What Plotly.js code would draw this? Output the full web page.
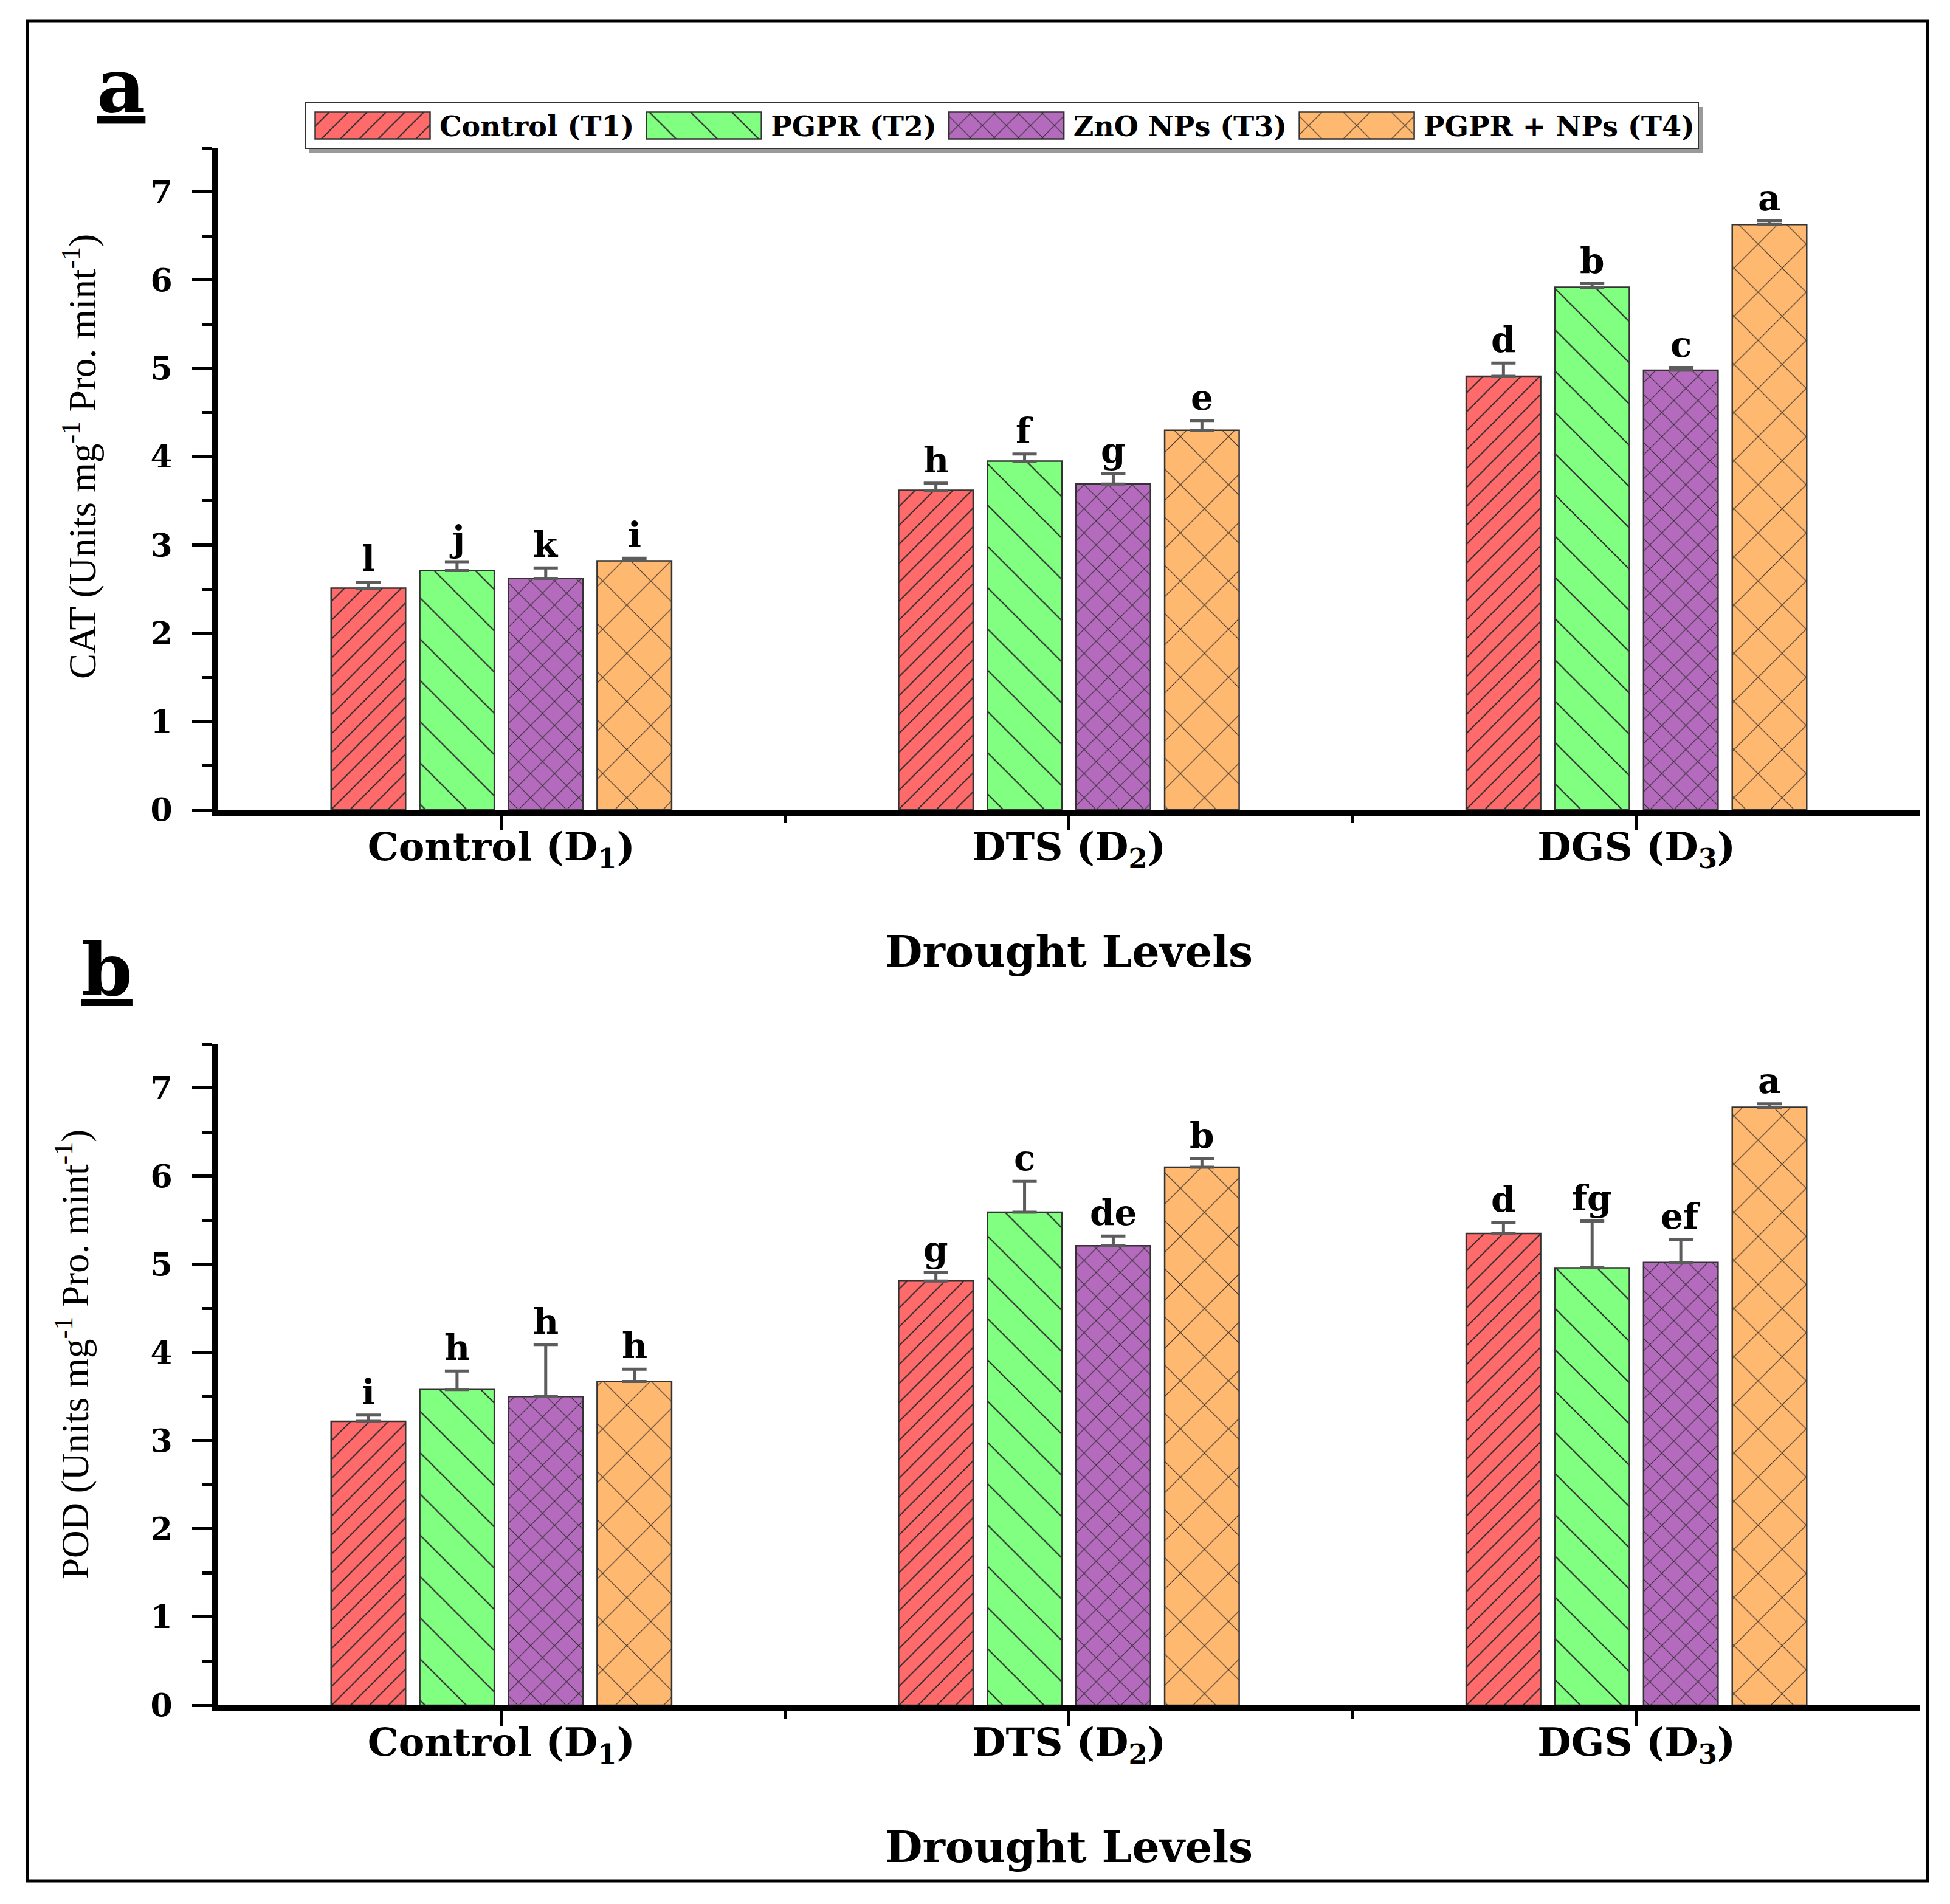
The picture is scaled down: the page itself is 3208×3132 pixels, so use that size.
<!DOCTYPE html>
<html>
<head>
<meta charset="utf-8">
<script src="https://cdn.plot.ly/plotly-3.0.1.min.js"></script>
<style>
html,body{margin:0;padding:0;background:#fff;}
#chart{width:3208px;height:3132px;}
</style>
</head>
<body>
<div id="chart"></div>
<script>
// ---------- data ----------
const categories = ['Control (D<sub>1</sub>)', 'DTS (D<sub>2</sub>)', 'DGS (D<sub>3</sub>)'];
const seriesNames = ['Control (T1)', 'PGPR (T2)', 'ZnO NPs (T3)', 'PGPR + NPs (T4)'];
const yTickVals = [0, 1, 2, 3, 4, 5, 6, 7];
const yTickLabels = ['0', '1', '2', '3', '4', '5', '6', '7'];
const yTitleA = 'CAT (Units mg<sup>-1</sup> Pro. mint<sup>-1</sup>)';
const yTitleB = 'POD (Units mg<sup>-1</sup> Pro. mint<sup>-1</sup>)';
const xTitle = 'Drought Levels';

// Panel a: CAT
const cat_T1 = [2.51, 3.62, 4.91];
const cat_T2 = [2.71, 3.95, 5.92];
const cat_T3 = [2.62, 3.69, 4.98];
const cat_T4 = [2.82, 4.30, 6.63];
const cat_T1_err = [0.07, 0.08, 0.15];
const cat_T2_err = [0.10, 0.08, 0.04];
const cat_T3_err = [0.12, 0.12, 0.03];
const cat_T4_err = [0.03, 0.11, 0.04];
const cat_T1_letters = ['l', 'h', 'd'];
const cat_T2_letters = ['j', 'f', 'b'];
const cat_T3_letters = ['k', 'g', 'c'];
const cat_T4_letters = ['i', 'e', 'a'];

// Panel b: POD
const pod_T1 = [3.22, 4.81, 5.35];
const pod_T2 = [3.58, 5.59, 4.96];
const pod_T3 = [3.50, 5.21, 5.02];
const pod_T4 = [3.67, 6.10, 6.78];
const pod_T1_err = [0.07, 0.10, 0.12];
const pod_T2_err = [0.21, 0.35, 0.53];
const pod_T3_err = [0.59, 0.11, 0.26];
const pod_T4_err = [0.14, 0.10, 0.04];
const pod_T1_letters = ['i', 'g', 'd'];
const pod_T2_letters = ['h', 'c', 'fg'];
const pod_T3_letters = ['h', 'de', 'ef'];
const pod_T4_letters = ['h', 'b', 'a'];

// ---------- styles ----------
const colors = ['#FF6B6B', '#80FF80', '#B56BBD', '#FFB870'];
const patterns = [
  {shape: '/', size: 22, solidity: 0.09},
  {shape: '\\', size: 48, solidity: 0.045},
  {shape: 'x', size: 28, solidity: 0.08},
  {shape: 'x', size: 56, solidity: 0.04}
];
const BARGAP = 0.375, BARGROUPGAP = 0.16;
const serif = 'DejaVu Serif';
const boldFont = (s) => ({family: serif, size: s, color: '#000', weight: 700});

const xIdx = categories.map((c, i) => i);
const panels = [
  {vals: [cat_T1, cat_T2, cat_T3, cat_T4], errs: [cat_T1_err, cat_T2_err, cat_T3_err, cat_T4_err],
   letters: [cat_T1_letters, cat_T2_letters, cat_T3_letters, cat_T4_letters], xa: 'x', ya: 'y'},
  {vals: [pod_T1, pod_T2, pod_T3, pod_T4], errs: [pod_T1_err, pod_T2_err, pod_T3_err, pod_T4_err],
   letters: [pod_T1_letters, pod_T2_letters, pod_T3_letters, pod_T4_letters], xa: 'x2', ya: 'y2'}
];

const traces = [];
const annotations = [];
const slot = (1 - BARGAP) / seriesNames.length;
panels.forEach((p, pi) => {
  seriesNames.forEach((name, j) => {
    traces.push({
      type: 'bar', name: name, x: xIdx, y: p.vals[j],
      xaxis: p.xa, yaxis: p.ya,
      legendgroup: name, showlegend: pi === 0,
      marker: {color: colors[j], line: {color: '#333', width: 2.5},
               pattern: Object.assign({fgcolor: '#2b2b2b', bgcolor: colors[j]}, patterns[j])},
      error_y: {type: 'data', symmetric: false, array: p.errs[j], arrayminus: p.errs[j].map(() => 0),
                color: '#5c5c5c', thickness: 5, width: 20},
      hoverinfo: 'skip'
    });
    p.letters[j].forEach((lt, i) => {
      annotations.push({
        xref: p.xa, yref: p.ya, x: xIdx[i] + (j - 1.5) * slot, y: p.vals[j][i] + p.errs[j][i],
        text: '<b>' + lt + '</b>', showarrow: false, xanchor: 'center', yanchor: 'bottom',
        yshift: 2, font: boldFont(58)
      });
    });
  });
});

// panel labels
annotations.push({xref: 'paper', yref: 'paper', x: 199 / 3208, y: 1 - 140 / 3132, text: '<b><u>a</u></b>',
  showarrow: false, xanchor: 'center', yanchor: 'middle', font: boldFont(124)});
annotations.push({xref: 'paper', yref: 'paper', x: 176 / 3208, y: 1 - 1594 / 3132, text: '<b><u>b</u></b>',
  showarrow: false, xanchor: 'center', yanchor: 'middle', font: boldFont(120)});

// y-axis titles (placed as in the reference, slightly above the axis centre)
const yTitleFont = {family: 'Liberation Serif', size: 63, color: '#000'};
annotations.push({xref: 'paper', yref: 'paper', x: 131 / 3208, y: 1 - 751 / 3132, text: yTitleA,
  textangle: -90, showarrow: false, xanchor: 'center', yanchor: 'middle', font: yTitleFont});
annotations.push({xref: 'paper', yref: 'paper', x: 119 / 3208, y: 1 - 2228 / 3132, text: yTitleB,
  textangle: -90, showarrow: false, xanchor: 'center', yanchor: 'middle', font: yTitleFont});

const xDomain = [358 / 3208, 3159 / 3208];
function xAxis(anchor) {
  return {
    domain: xDomain, anchor: anchor, range: [-0.5, 2.5],
    tickmode: 'array', tickvals: xIdx, ticktext: categories,
    ticks: 'outside', ticklen: 24, tickwidth: 5, tickcolor: '#000',
    ticklabelstandoff: -28,
    minor: {tickmode: 'array', tickvals: [0.5, 1.5], ticks: 'outside', ticklen: 12, tickwidth: 5, tickcolor: '#000'},
    showline: true, linewidth: 10, linecolor: '#000', showgrid: false, zeroline: false,
    tickfont: boldFont(64),
    title: {text: '<b>' + xTitle + '</b>', font: boldFont(71), standoff: 106}
  };
}
function yAxis(domain, anchor) {
  return {
    domain: domain, anchor: anchor, range: [0, 7.5],
    tickmode: 'array', tickvals: yTickVals, ticktext: yTickLabels,
    ticks: 'outside', ticklen: 32, tickwidth: 5, tickcolor: '#000',
    ticklabelstandoff: 22,
    minor: {tickmode: 'array', tickvals: [0.5, 1.5, 2.5, 3.5, 4.5, 5.5, 6.5, 7.5], ticks: 'outside', ticklen: 16, tickwidth: 5, tickcolor: '#000'},
    showline: true, linewidth: 10, linecolor: '#000', showgrid: false, zeroline: false,
    tickfont: boldFont(52)
  };
}

const layout = {
  width: 3208, height: 3132,
  margin: {l: 0, r: 0, t: 0, b: 0},
  paper_bgcolor: '#fff', plot_bgcolor: 'rgba(0,0,0,0)',
  barmode: 'group', bargap: BARGAP, bargroupgap: BARGROUPGAP,
  showlegend: true,
  legend: {orientation: 'h', x: 501 / 3208, y: 1 - 168 / 3132, xanchor: 'left', yanchor: 'top',
           bgcolor: '#fff', bordercolor: '#333', borderwidth: 2, itemwidth: 210,
           font: boldFont(46), traceorder: 'normal'},
  xaxis: xAxis('y'),
  yaxis: yAxis([1 - 1332 / 3132, 1 - 243 / 3132], 'x'),
  xaxis2: xAxis('y2'),
  yaxis2: yAxis([1 - 2805 / 3132, 1 - 1717 / 3132], 'x2'),
  annotations: annotations,
  shapes: [
    {type: 'rect', xref: 'paper', yref: 'paper', x0: 45 / 3208, x1: 3171 / 3208, y0: 1 - 3094 / 3132, y1: 1 - 35 / 3132,
     line: {color: '#000', width: 5}, fillcolor: 'rgba(0,0,0,0)', layer: 'below'}
  ]
};

function tweakLegend() {
  // wide swatches like the reference, filled with the same pattern as the bars
  const barTraces = document.querySelectorAll('g.subplot.xy .barlayer g.trace');
  const legendItems = document.querySelectorAll('.legend g.traces');
  legendItems.forEach(function (item, i) {
    const p = item.querySelector('.legendpoints path');
    if (!p) return;
    p.setAttribute('d', 'M94.5,22H-94.5V-22H94.5Z');
    const src = barTraces[i] ? barTraces[i].querySelector('path') : null;
    if (src && src.style.fill) p.style.fill = src.style.fill;
  });
}

const gd = document.getElementById('chart');
Plotly.newPlot(gd, traces, layout, {staticPlot: true}).then(function () {
  // soft shadow behind the legend box, sized from the drawn legend
  const bg = gd.querySelector('.legend .bg');
  if (bg) {
    const r = bg.getBoundingClientRect();
    const c = gd.getBoundingClientRect();
    const off = 7;
    const shapes = layout.shapes.concat([{
      type: 'rect', xref: 'paper', yref: 'paper', layer: 'above',
      x0: (r.left - c.left + off) / 3208, x1: (r.right - c.left + off) / 3208,
      y0: 1 - (r.bottom - c.top + off) / 3132, y1: 1 - (r.top - c.top + off) / 3132,
      fillcolor: '#9a9a9a', line: {width: 0}
    }]);
    return Plotly.relayout(gd, {shapes: shapes});
  }
}).then(tweakLegend);
</script>
</body>
</html>
